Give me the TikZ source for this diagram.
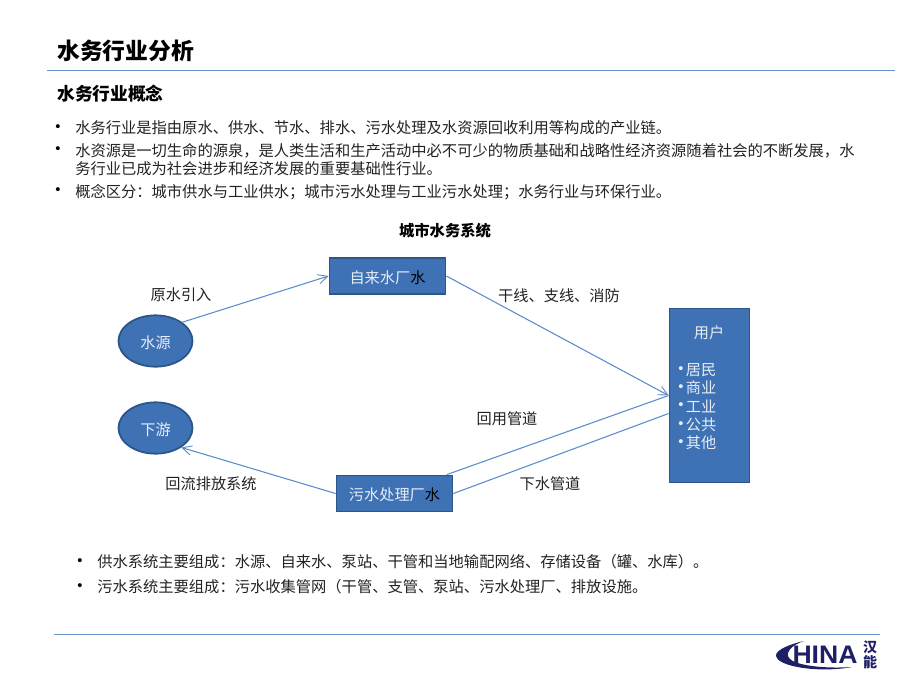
\documentclass[tikz,border=0pt]{standalone}
\usepackage{fontspec}
\setmainfont{Noto Sans CJK SC}
\newfontfamily\latinf{Liberation Sans}
\usetikzlibrary{arrows.meta,shapes.geometric}
\definecolor{rulec}{HTML}{6A94CC}
\definecolor{fillc}{HTML}{3F72B5}
\definecolor{edgec}{HTML}{2C5688}
\definecolor{linec}{HTML}{5B8CCB}
\definecolor{inkc}{HTML}{222222}
\definecolor{boxtxt}{HTML}{E6EDF6}
\definecolor{logoc}{HTML}{1F1F66}
\newcommand{\boxt}[1]{\raisebox{-5.4pt}[0pt][0pt]{#1}}
\tikzset{
 txt/.style={anchor=base west,inner sep=0pt,text=inkc,font=\fontsize{11.46pt}{13pt}\selectfont},
 lab/.style={anchor=center,inner sep=0pt,text=inkc,font=\fontsize{11.4pt}{13pt}\selectfont},
 dot/.style={anchor=center,inner sep=0pt,text=black,font=\latinf\fontsize{11pt}{13pt}\selectfont},
 boxn/.style={draw=edgec,line width=1.35pt,fill=fillc,inner sep=0pt,text=boxtxt,font=\fontsize{11.4pt}{13pt}\selectfont},
 oval/.style={boxn,ellipse,minimum width=55.5pt,minimum height=38.5pt},
 flow/.style={draw=linec,line width=0.8pt},
 arr/.style={flow,-{Straight Barb[length=7pt,width=7pt,line width=0.7pt]}},
 rulel/.style={draw=rulec,line width=0.75pt}
}
\begin{document}
\begin{tikzpicture}[x=0.75pt,y=-0.75pt]
\useasboundingbox (0,0) rectangle (920,690);
\node[txt,font=\bfseries\fontsize{17.1pt}{20pt}\selectfont,text=black] (title) at (57,59.5) {水务行业分析};
\coordinate (r1a) at (47,70); \coordinate (r1b) at (895,70);
\draw[rulel] (r1a) -- (r1b);
\node[txt,font=\bfseries\fontsize{13.3pt}{16pt}\selectfont,text=black] (sub) at (57,100.7) {水务行业概念};
\node[dot] (b1) at (58,128) {•};
\node[txt] (t1) at (75,133.6) {水务行业是指由原水、供水、节水、排水、污水处理及水资源回收利用等构成的产业链。};
\node[dot] (b2) at (58,150) {•};
\node[txt] (t2) at (75,156.6) {水资源是一切生命的源泉，是人类生活和生产活动中必不可少的物质基础和战略性经济资源随着社会的不断发展，水};
\node[txt] (t3) at (75,174.6) {务行业已成为社会进步和经济发展的重要基础性行业。};
\node[dot] (b3) at (58,191) {•};
\node[txt] (t4) at (75,197.6) {概念区分：城市供水与工业供水；城市污水处理与工业污水处理；水务行业与环保行业。};
\node[lab,font=\bfseries\fontsize{11.5pt}{13pt}\selectfont,text=black] (dtitle) at (445,230.5) {城市水务系统};

\node[boxn,minimum width=87pt,minimum height=27.5pt] (plant) at (387.5,276) {\boxt{自来水厂\textcolor{black}{水}}};
\node[oval] (src) at (155.5,341) {\boxt{水源}};
\node[oval] (down) at (155.5,428) {\boxt{下游}};
\node[boxn,minimum width=87pt,minimum height=27pt] (sew) at (394.5,493.5) {\boxt{污水处理厂\textcolor{black}{水}}};
\node[boxn,minimum width=60pt,minimum height=130.5pt] (user) at (709.5,395.5) {};
\node[lab,text=boxtxt] (u0) at (709,333) {用户};
\foreach \n/\t/\y in {u1/居民/370,u2/商业/388,u3/工业/406.5,u4/公共/425,u5/其他/443}{
  \node[dot,text=boxtxt] (\n d) at (681,\y) {•};
  \node[lab,text=boxtxt] (\n) at (701,\y) {\t};
}

\draw[arr] (src.35) -- (plant.west);
\draw[arr] (plant.east) -- (user.west);
\draw[flow] ([xshift=-5pt]sew.north east) -- (user.west);
\draw[flow] (sew.east) -- ([yshift=-13.5pt]user.west);
\draw[arr] (sew.west) -- (down.-37);

\node[lab] (l1) at (181,295) {原水引入};
\node[lab] (l2) at (559,296) {干线、支线、消防};
\node[lab] (l3) at (507,418.5) {回用管道};
\node[lab] (l4) at (550,483.5) {下水管道};
\node[lab] (l5) at (211,483.5) {回流排放系统};

\node[dot] (b4) at (80,562) {•};
\node[txt] (t5) at (97,567.6) {供水系统主要组成：水源、自来水、泵站、干管和当地输配网络、存储设备（罐、水库）。};
\node[dot] (b5) at (80,587) {•};
\node[txt] (t6) at (97,592.6) {污水系统主要组成：污水收集管网（干管、支管、泵站、污水处理厂、排放设施。};

\coordinate (r2a) at (54,634); \coordinate (r2b) at (880,634);
\draw[rulel] (r2a) -- (r2b);

% logo
\fill[logoc] (804,641) .. controls (786,645) and (772,652) .. (777,658)
  .. controls (782,667) and (820,673) .. (852,667)
  .. controls (822,669) and (794,665) .. (789,658)
  .. controls (785,652) and (792,645) .. (804,641) -- cycle;
\node[anchor=center,inner sep=0pt,text=logoc,font=\latinf\bfseries\fontsize{19pt}{20pt}\selectfont,xscale=1.05] (logo) at (825,654.5) {HINA};
\node[anchor=center,inner sep=0pt,text=logoc,align=center,font=\bfseries\fontsize{10.5pt}{11.5pt}\selectfont] (han) at (870,655) {汉\\能};
\end{tikzpicture}
\end{document}
